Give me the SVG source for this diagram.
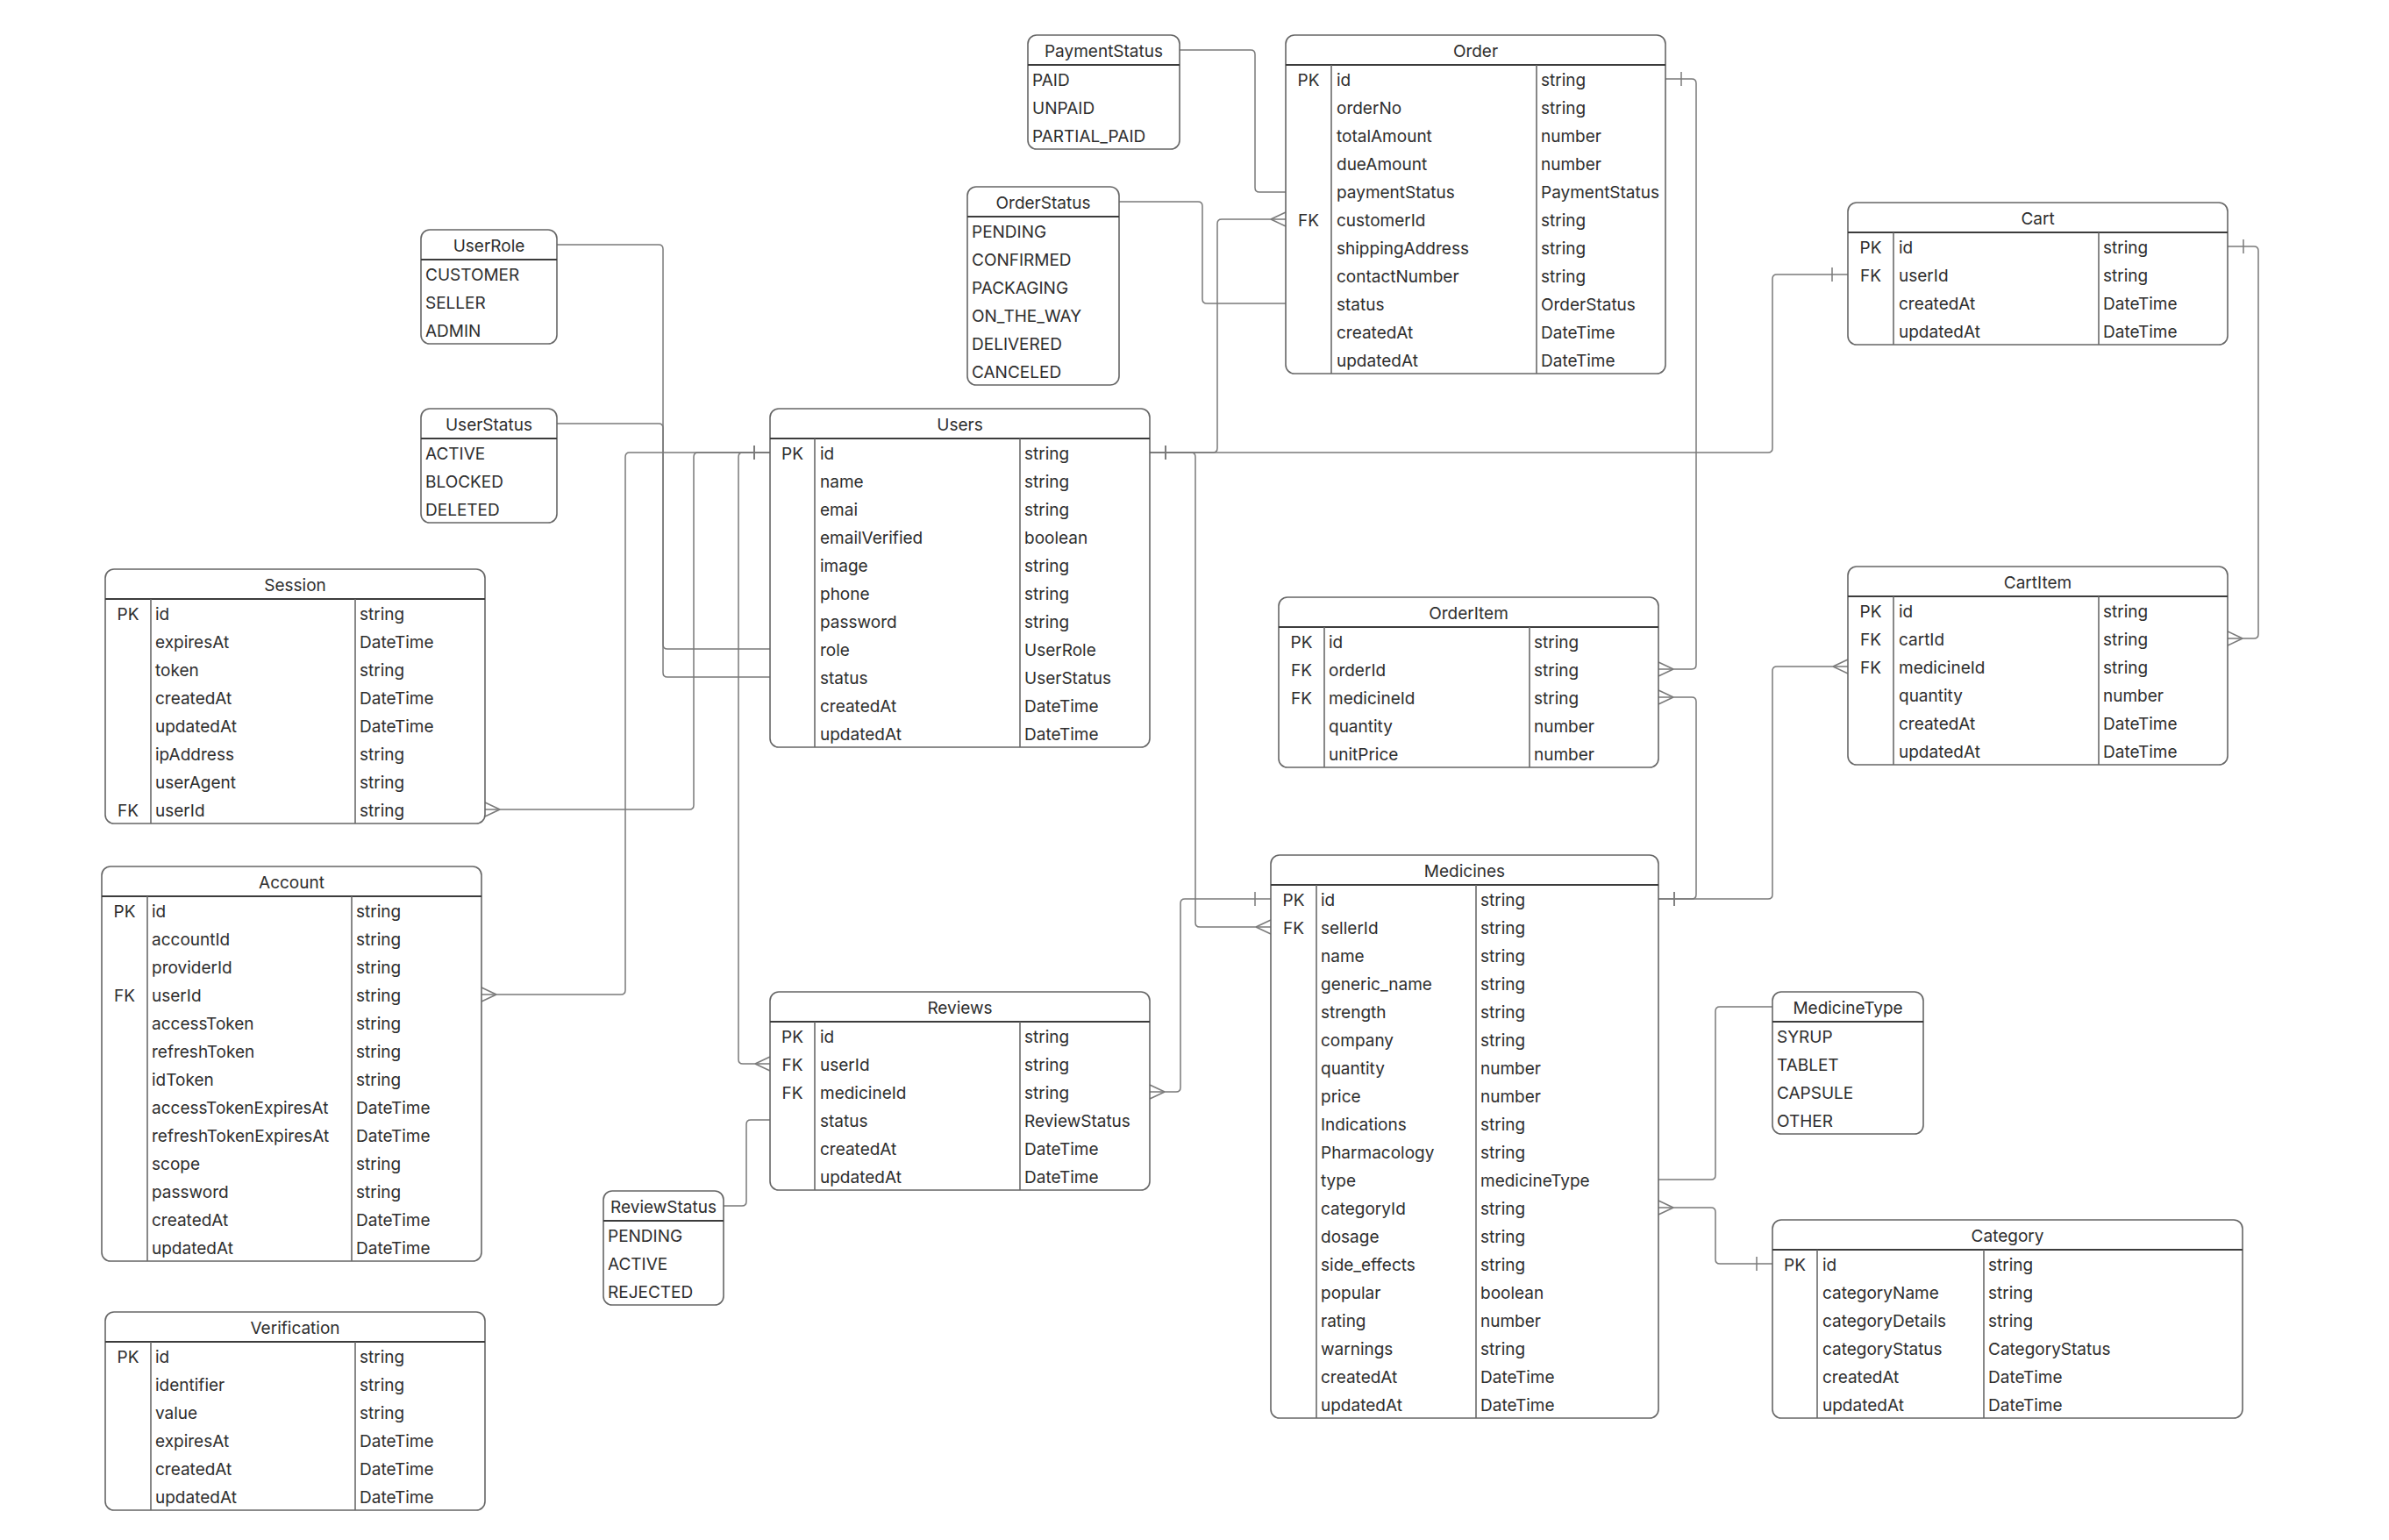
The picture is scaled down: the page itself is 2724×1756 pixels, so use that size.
<svg xmlns="http://www.w3.org/2000/svg" width="2724" height="1756" viewBox="0 0 2724 1756">
<style>
.bg{fill:#ffffff}
.box{fill:#ffffff;stroke:#666666;stroke-width:1.6}
.hd{stroke:#3c3c3c;stroke-width:2}
.col{stroke:#6a6a6a;stroke-width:1.6}
text{font-family:Inter,"Liberation Sans",sans-serif;font-size:19px;fill:#2e2e2e;dominant-baseline:central;transform:translate(0px,1.5px)}
.c{text-anchor:middle}
.conn path{fill:none;stroke:#7a7a7a;stroke-width:1.5}
.mk{fill:none;stroke:#7a7a7a;stroke-width:1.5}
</style>
<defs>
<marker id="many" markerUnits="userSpaceOnUse" markerWidth="20" markerHeight="20" refX="0" refY="0" orient="auto-start-reverse" overflow="visible"><path class="mk" d="M-17,0 L0,-8 M-17,0 L0,8"/></marker>
<marker id="one" markerUnits="userSpaceOnUse" markerWidth="20" markerHeight="20" refX="0" refY="0" orient="auto-start-reverse" overflow="visible"><path class="mk" d="M-18,-8 V8"/></marker>
</defs>
<rect class="bg" x="0" y="0" width="2724" height="1756"/>

<g id="connectors" class="conn">
<path d="M1345,57 H1426 Q1431,57 1431,62 V214 Q1431,219 1436,219 H1466"/>
<path d="M1276,230 H1366 Q1371,230 1371,235 V341 Q1371,346 1376,346 H1466"/>
<path d="M1311,516 H1383 Q1388,516 1388,511 V255 Q1388,250 1393,250 H1466" marker-start="url(#one)" marker-end="url(#many)"/>
<path d="M1311,516 H2016 Q2021,516 2021,511 V318 Q2021,313 2026,313 H2107" marker-start="url(#one)" marker-end="url(#one)"/>
<path d="M1311,516 H1358 Q1363,516 1363,521 V1052 Q1363,1057 1368,1057 H1449" marker-start="url(#one)" marker-end="url(#many)"/>
<path d="M1899,90 H1929 Q1934,90 1934,95 V758 Q1934,763 1929,763 H1891" marker-start="url(#one)" marker-end="url(#many)"/>
<path d="M1891,1025 H1929 Q1934,1025 1934,1020 V800 Q1934,795 1929,795 H1891" marker-start="url(#one)" marker-end="url(#many)"/>
<path d="M1891,1025 H2016 Q2021,1025 2021,1020 V765 Q2021,760 2026,760 H2107" marker-start="url(#one)" marker-end="url(#many)"/>
<path d="M2540,281 H2570 Q2575,281 2575,286 V723 Q2575,728 2570,728 H2540" marker-start="url(#one)" marker-end="url(#many)"/>
<path d="M878,516 H796 Q791,516 791,521 V918 Q791,923 786,923 H553" marker-start="url(#one)" marker-end="url(#many)"/>
<path d="M878,516 H718 Q713,516 713,521 V1129 Q713,1134 708,1134 H549" marker-start="url(#one)" marker-end="url(#many)"/>
<path d="M878,516 H847 Q842,516 842,521 V1208 Q842,1213 847,1213 H878" marker-start="url(#one)" marker-end="url(#many)"/>
<path d="M634,279 H751 Q756,279 756,284 V735 Q756,740 761,740 H878"/>
<path d="M634,483 H751 Q756,483 756,488 V767 Q756,772 761,772 H878"/>
<path d="M1449,1025 H1351 Q1346,1025 1346,1030 V1240 Q1346,1245 1341,1245 H1311" marker-start="url(#one)" marker-end="url(#many)"/>
<path d="M825,1375 H846 Q851,1375 851,1370 V1282 Q851,1277 856,1277 H878"/>
<path d="M2021,1148 H1961 Q1956,1148 1956,1153 V1340 Q1956,1345 1951,1345 H1891"/>
<path d="M2021,1441 H1961 Q1956,1441 1956,1436 V1382 Q1956,1377 1951,1377 H1891" marker-start="url(#one)" marker-end="url(#many)"/>
</g>

<g id="PaymentStatus">
<rect class="box" x="1172" y="40" width="173" height="130" rx="10"/>
<line class="hd" x1="1172" y1="74" x2="1345" y2="74"/>
<text class="c" x="1258.5" y="57">PaymentStatus</text>
<text x="1177" y="90">PAID</text>
<text x="1177" y="122">UNPAID</text>
<text x="1177" y="154">PARTIAL_PAID</text>
</g>

<g id="OrderStatus">
<rect class="box" x="1103" y="213" width="173" height="226" rx="10"/>
<line class="hd" x1="1103" y1="247" x2="1276" y2="247"/>
<text class="c" x="1189.5" y="230">OrderStatus</text>
<text x="1108" y="263">PENDING</text>
<text x="1108" y="295">CONFIRMED</text>
<text x="1108" y="327">PACKAGING</text>
<text x="1108" y="359">ON_THE_WAY</text>
<text x="1108" y="391">DELIVERED</text>
<text x="1108" y="423">CANCELED</text>
</g>

<g id="UserRole">
<rect class="box" x="480" y="262" width="155" height="130" rx="10"/>
<line class="hd" x1="480" y1="296" x2="635" y2="296"/>
<text class="c" x="557.5" y="279">UserRole</text>
<text x="485" y="312">CUSTOMER</text>
<text x="485" y="344">SELLER</text>
<text x="485" y="376">ADMIN</text>
</g>

<g id="UserStatus">
<rect class="box" x="480" y="466" width="155" height="130" rx="10"/>
<line class="hd" x1="480" y1="500" x2="635" y2="500"/>
<text class="c" x="557.5" y="483">UserStatus</text>
<text x="485" y="516">ACTIVE</text>
<text x="485" y="548">BLOCKED</text>
<text x="485" y="580">DELETED</text>
</g>

<g id="ReviewStatus">
<rect class="box" x="688" y="1358" width="137" height="130" rx="10"/>
<line class="hd" x1="688" y1="1392" x2="825" y2="1392"/>
<text class="c" x="756.5" y="1375">ReviewStatus</text>
<text x="693" y="1408">PENDING</text>
<text x="693" y="1440">ACTIVE</text>
<text x="693" y="1472">REJECTED</text>
</g>

<g id="MedicineType">
<rect class="box" x="2021" y="1131" width="172" height="162" rx="10"/>
<line class="hd" x1="2021" y1="1165" x2="2193" y2="1165"/>
<text class="c" x="2107" y="1148">MedicineType</text>
<text x="2026" y="1181">SYRUP</text>
<text x="2026" y="1213">TABLET</text>
<text x="2026" y="1245">CAPSULE</text>
<text x="2026" y="1277">OTHER</text>
</g>

<g id="Order">
<rect class="box" x="1466" y="40" width="433" height="386" rx="10"/>
<line class="hd" x1="1466" y1="74" x2="1899" y2="74"/>
<line class="col" x1="1518" y1="74" x2="1518" y2="426"/>
<line class="col" x1="1752" y1="74" x2="1752" y2="426"/>
<text class="c" x="1682.5" y="57">Order</text>
<text class="c" x="1492" y="90">PK</text><text x="1524" y="90">id</text><text x="1757" y="90">string</text>
<text x="1524" y="122">orderNo</text><text x="1757" y="122">string</text>
<text x="1524" y="154">totalAmount</text><text x="1757" y="154">number</text>
<text x="1524" y="186">dueAmount</text><text x="1757" y="186">number</text>
<text x="1524" y="218">paymentStatus</text><text x="1757" y="218">PaymentStatus</text>
<text class="c" x="1492" y="250">FK</text><text x="1524" y="250">customerId</text><text x="1757" y="250">string</text>
<text x="1524" y="282">shippingAddress</text><text x="1757" y="282">string</text>
<text x="1524" y="314">contactNumber</text><text x="1757" y="314">string</text>
<text x="1524" y="346">status</text><text x="1757" y="346">OrderStatus</text>
<text x="1524" y="378">createdAt</text><text x="1757" y="378">DateTime</text>
<text x="1524" y="410">updatedAt</text><text x="1757" y="410">DateTime</text>
</g>

<g id="Users">
<rect class="box" x="878" y="466" width="433" height="386" rx="10"/>
<line class="hd" x1="878" y1="500" x2="1311" y2="500"/>
<line class="col" x1="929" y1="500" x2="929" y2="852"/>
<line class="col" x1="1163" y1="500" x2="1163" y2="852"/>
<text class="c" x="1094.5" y="483">Users</text>
<text class="c" x="903.5" y="516">PK</text><text x="935" y="516">id</text><text x="1168" y="516">string</text>
<text x="935" y="548">name</text><text x="1168" y="548">string</text>
<text x="935" y="580">emai</text><text x="1168" y="580">string</text>
<text x="935" y="612">emailVerified</text><text x="1168" y="612">boolean</text>
<text x="935" y="644">image</text><text x="1168" y="644">string</text>
<text x="935" y="676">phone</text><text x="1168" y="676">string</text>
<text x="935" y="708">password</text><text x="1168" y="708">string</text>
<text x="935" y="740">role</text><text x="1168" y="740">UserRole</text>
<text x="935" y="772">status</text><text x="1168" y="772">UserStatus</text>
<text x="935" y="804">createdAt</text><text x="1168" y="804">DateTime</text>
<text x="935" y="836">updatedAt</text><text x="1168" y="836">DateTime</text>
</g>

<g id="Cart">
<rect class="box" x="2107" y="231" width="433" height="162" rx="10"/>
<line class="hd" x1="2107" y1="265" x2="2540" y2="265"/>
<line class="col" x1="2159" y1="265" x2="2159" y2="393"/>
<line class="col" x1="2393" y1="265" x2="2393" y2="393"/>
<text class="c" x="2323.5" y="248">Cart</text>
<text class="c" x="2133" y="281">PK</text><text x="2165" y="281">id</text><text x="2398" y="281">string</text>
<text class="c" x="2133" y="313">FK</text><text x="2165" y="313">userId</text><text x="2398" y="313">string</text>
<text x="2165" y="345">createdAt</text><text x="2398" y="345">DateTime</text>
<text x="2165" y="377">updatedAt</text><text x="2398" y="377">DateTime</text>
</g>

<g id="Session">
<rect class="box" x="120" y="649" width="433" height="290" rx="10"/>
<line class="hd" x1="120" y1="683" x2="553" y2="683"/>
<line class="col" x1="172" y1="683" x2="172" y2="939"/>
<line class="col" x1="405" y1="683" x2="405" y2="939"/>
<text class="c" x="336.5" y="666">Session</text>
<text class="c" x="146" y="699">PK</text><text x="177" y="699">id</text><text x="410" y="699">string</text>
<text x="177" y="731">expiresAt</text><text x="410" y="731">DateTime</text>
<text x="177" y="763">token</text><text x="410" y="763">string</text>
<text x="177" y="795">createdAt</text><text x="410" y="795">DateTime</text>
<text x="177" y="827">updatedAt</text><text x="410" y="827">DateTime</text>
<text x="177" y="859">ipAddress</text><text x="410" y="859">string</text>
<text x="177" y="891">userAgent</text><text x="410" y="891">string</text>
<text class="c" x="146" y="923">FK</text><text x="177" y="923">userId</text><text x="410" y="923">string</text>
</g>

<g id="OrderItem">
<rect class="box" x="1458" y="681" width="433" height="194" rx="10"/>
<line class="hd" x1="1458" y1="715" x2="1891" y2="715"/>
<line class="col" x1="1510" y1="715" x2="1510" y2="875"/>
<line class="col" x1="1744" y1="715" x2="1744" y2="875"/>
<text class="c" x="1674.5" y="698">OrderItem</text>
<text class="c" x="1484" y="731">PK</text><text x="1515" y="731">id</text><text x="1749" y="731">string</text>
<text class="c" x="1484" y="763">FK</text><text x="1515" y="763">orderId</text><text x="1749" y="763">string</text>
<text class="c" x="1484" y="795">FK</text><text x="1515" y="795">medicineId</text><text x="1749" y="795">string</text>
<text x="1515" y="827">quantity</text><text x="1749" y="827">number</text>
<text x="1515" y="859">unitPrice</text><text x="1749" y="859">number</text>
</g>

<g id="CartItem">
<rect class="box" x="2107" y="646" width="433" height="226" rx="10"/>
<line class="hd" x1="2107" y1="680" x2="2540" y2="680"/>
<line class="col" x1="2159" y1="680" x2="2159" y2="872"/>
<line class="col" x1="2393" y1="680" x2="2393" y2="872"/>
<text class="c" x="2323.5" y="663">CartItem</text>
<text class="c" x="2133" y="696">PK</text><text x="2165" y="696">id</text><text x="2398" y="696">string</text>
<text class="c" x="2133" y="728">FK</text><text x="2165" y="728">cartId</text><text x="2398" y="728">string</text>
<text class="c" x="2133" y="760">FK</text><text x="2165" y="760">medicineId</text><text x="2398" y="760">string</text>
<text x="2165" y="792">quantity</text><text x="2398" y="792">number</text>
<text x="2165" y="824">createdAt</text><text x="2398" y="824">DateTime</text>
<text x="2165" y="856">updatedAt</text><text x="2398" y="856">DateTime</text>
</g>

<g id="Account">
<rect class="box" x="116" y="988" width="433" height="450" rx="10"/>
<line class="hd" x1="116" y1="1022" x2="549" y2="1022"/>
<line class="col" x1="168" y1="1022" x2="168" y2="1438"/>
<line class="col" x1="401" y1="1022" x2="401" y2="1438"/>
<text class="c" x="332.5" y="1005">Account</text>
<text class="c" x="142" y="1038">PK</text><text x="173" y="1038">id</text><text x="406" y="1038">string</text>
<text x="173" y="1070">accountId</text><text x="406" y="1070">string</text>
<text x="173" y="1102">providerId</text><text x="406" y="1102">string</text>
<text class="c" x="142" y="1134">FK</text><text x="173" y="1134">userId</text><text x="406" y="1134">string</text>
<text x="173" y="1166">accessToken</text><text x="406" y="1166">string</text>
<text x="173" y="1198">refreshToken</text><text x="406" y="1198">string</text>
<text x="173" y="1230">idToken</text><text x="406" y="1230">string</text>
<text x="173" y="1262">accessTokenExpiresAt</text><text x="406" y="1262">DateTime</text>
<text x="173" y="1294">refreshTokenExpiresAt</text><text x="406" y="1294">DateTime</text>
<text x="173" y="1326">scope</text><text x="406" y="1326">string</text>
<text x="173" y="1358">password</text><text x="406" y="1358">string</text>
<text x="173" y="1390">createdAt</text><text x="406" y="1390">DateTime</text>
<text x="173" y="1422">updatedAt</text><text x="406" y="1422">DateTime</text>
</g>

<g id="Reviews">
<rect class="box" x="878" y="1131" width="433" height="226" rx="10"/>
<line class="hd" x1="878" y1="1165" x2="1311" y2="1165"/>
<line class="col" x1="929" y1="1165" x2="929" y2="1357"/>
<line class="col" x1="1163" y1="1165" x2="1163" y2="1357"/>
<text class="c" x="1094.5" y="1148">Reviews</text>
<text class="c" x="903.5" y="1181">PK</text><text x="935" y="1181">id</text><text x="1168" y="1181">string</text>
<text class="c" x="903.5" y="1213">FK</text><text x="935" y="1213">userId</text><text x="1168" y="1213">string</text>
<text class="c" x="903.5" y="1245">FK</text><text x="935" y="1245">medicineId</text><text x="1168" y="1245">string</text>
<text x="935" y="1277">status</text><text x="1168" y="1277">ReviewStatus</text>
<text x="935" y="1309">createdAt</text><text x="1168" y="1309">DateTime</text>
<text x="935" y="1341">updatedAt</text><text x="1168" y="1341">DateTime</text>
</g>

<g id="Medicines">
<rect class="box" x="1449" y="975" width="442" height="642" rx="10"/>
<line class="hd" x1="1449" y1="1009" x2="1891" y2="1009"/>
<line class="col" x1="1501" y1="1009" x2="1501" y2="1617"/>
<line class="col" x1="1683" y1="1009" x2="1683" y2="1617"/>
<text class="c" x="1670" y="992">Medicines</text>
<text class="c" x="1475" y="1025">PK</text><text x="1506" y="1025">id</text><text x="1688" y="1025">string</text>
<text class="c" x="1475" y="1057">FK</text><text x="1506" y="1057">sellerId</text><text x="1688" y="1057">string</text>
<text x="1506" y="1089">name</text><text x="1688" y="1089">string</text>
<text x="1506" y="1121">generic_name</text><text x="1688" y="1121">string</text>
<text x="1506" y="1153">strength</text><text x="1688" y="1153">string</text>
<text x="1506" y="1185">company</text><text x="1688" y="1185">string</text>
<text x="1506" y="1217">quantity</text><text x="1688" y="1217">number</text>
<text x="1506" y="1249">price</text><text x="1688" y="1249">number</text>
<text x="1506" y="1281">Indications</text><text x="1688" y="1281">string</text>
<text x="1506" y="1313">Pharmacology</text><text x="1688" y="1313">string</text>
<text x="1506" y="1345">type</text><text x="1688" y="1345">medicineType</text>
<text x="1506" y="1377">categoryId</text><text x="1688" y="1377">string</text>
<text x="1506" y="1409">dosage</text><text x="1688" y="1409">string</text>
<text x="1506" y="1441">side_effects</text><text x="1688" y="1441">string</text>
<text x="1506" y="1473">popular</text><text x="1688" y="1473">boolean</text>
<text x="1506" y="1505">rating</text><text x="1688" y="1505">number</text>
<text x="1506" y="1537">warnings</text><text x="1688" y="1537">string</text>
<text x="1506" y="1569">createdAt</text><text x="1688" y="1569">DateTime</text>
<text x="1506" y="1601">updatedAt</text><text x="1688" y="1601">DateTime</text>
</g>

<g id="Category">
<rect class="box" x="2021" y="1391" width="536" height="226" rx="10"/>
<line class="hd" x1="2021" y1="1425" x2="2557" y2="1425"/>
<line class="col" x1="2072" y1="1425" x2="2072" y2="1617"/>
<line class="col" x1="2262" y1="1425" x2="2262" y2="1617"/>
<text class="c" x="2289" y="1408">Category</text>
<text class="c" x="2046.5" y="1441">PK</text><text x="2078" y="1441">id</text><text x="2267" y="1441">string</text>
<text x="2078" y="1473">categoryName</text><text x="2267" y="1473">string</text>
<text x="2078" y="1505">categoryDetails</text><text x="2267" y="1505">string</text>
<text x="2078" y="1537">categoryStatus</text><text x="2267" y="1537">CategoryStatus</text>
<text x="2078" y="1569">createdAt</text><text x="2267" y="1569">DateTime</text>
<text x="2078" y="1601">updatedAt</text><text x="2267" y="1601">DateTime</text>
</g>

<g id="Verification">
<rect class="box" x="120" y="1496" width="433" height="226" rx="10"/>
<line class="hd" x1="120" y1="1530" x2="553" y2="1530"/>
<line class="col" x1="172" y1="1530" x2="172" y2="1722"/>
<line class="col" x1="405" y1="1530" x2="405" y2="1722"/>
<text class="c" x="336.5" y="1513">Verification</text>
<text class="c" x="146" y="1546">PK</text><text x="177" y="1546">id</text><text x="410" y="1546">string</text>
<text x="177" y="1578">identifier</text><text x="410" y="1578">string</text>
<text x="177" y="1610">value</text><text x="410" y="1610">string</text>
<text x="177" y="1642">expiresAt</text><text x="410" y="1642">DateTime</text>
<text x="177" y="1674">createdAt</text><text x="410" y="1674">DateTime</text>
<text x="177" y="1706">updatedAt</text><text x="410" y="1706">DateTime</text>
</g>
</svg>
